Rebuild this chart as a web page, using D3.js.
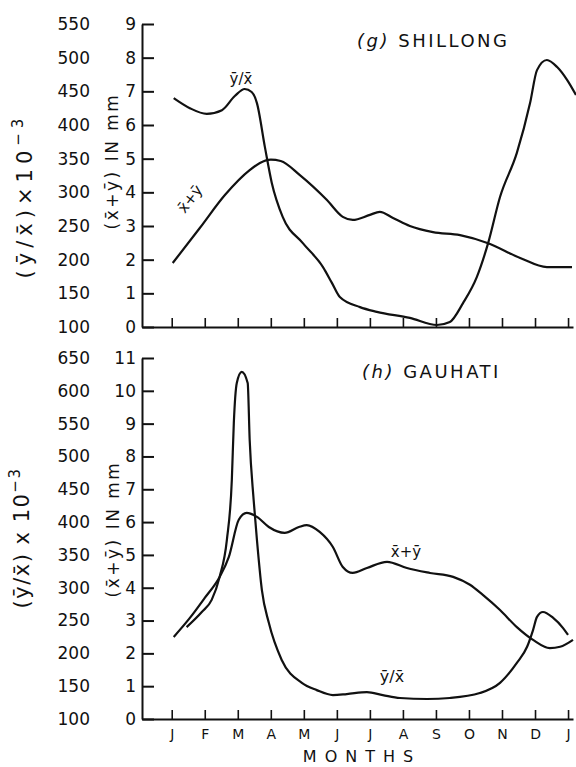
<!DOCTYPE html>
<html><head><meta charset="utf-8">
<script src="https://cdn.jsdelivr.net/npm/d3@7"></script>
<style>
html,body{margin:0;padding:0;background:#fff;}
svg text{font-family:"DejaVu Sans",sans-serif;fill:#111;}
</style></head>
<body>
<script>
// ---------- DATA ----------
const monthLabels = ["J","F","M","A","M","J","J","A","S","O","N","D","J"];
const monthTicks = [0,1,2,3,4,5,6,7,8,9,10,11,12];

// (g) SHILLONG
const shLeftTicks = [100,150,200,250,300,350,400,450,500,550];
const shRightTicks = [0,1,2,3,4,5,6,7,8,9];
const shRatioMonth = [0.06,0.55,1.06,1.52,1.91,2.21,2.42,2.58,2.82,3.03,3.36,3.97,4.58,4.85,5.09,5.70,6.21,7.21,8.03,8.42,8.82,9.24,9.58,9.94,10.45,10.85,11.06,11.36,11.67,11.97,12.24];
const shRatioValue = [440,425,416.5,422,443,453.5,449,432.5,367.5,314,263.5,224.5,189,165.5,144.5,129.5,122.5,113.5,103,107.5,135.5,174.5,224.5,293,358.5,432.5,481.5,496.5,486,467,444.5];
const shSumMonth = [0.03,0.85,1.61,2.36,2.67,3.0,3.3,3.88,4.70,5.18,5.48,6.0,6.30,6.70,7.21,7.91,8.73,9.58,10.55,11.36,12.12];
const shSumValue = [1.90,2.94,3.92,4.66,4.87,4.97,4.93,4.51,3.77,3.27,3.18,3.33,3.42,3.24,3.0,2.82,2.73,2.49,2.05,1.78,1.78];

// (h) GAUHATI
const ghLeftTicks = [100,150,200,250,300,350,400,450,500,550,600,650];
const ghRightTicks = [0,1,2,3,4,5,6,7,8,9,10,11];
const ghRatioMonth = [0.45,0.91,1.21,1.45,1.67,1.82,1.88,1.97,2.12,2.30,2.36,2.48,2.58,2.73,2.94,3.33,3.94,4.39,4.88,5.30,5.91,6.39,6.91,7.73,8.42,9.33,9.94,10.45,10.76,10.94,11.06,11.24,11.55,11.85,12.0];
const ghRatioValue = [240,263,281.5,316.5,373,464.5,551,612,629,612,525.5,434,373,296.5,246.5,190,155,144,136.5,138,141,136.5,132,130.5,132,139.5,155,185.5,210,235.5,255.5,263,254,238.5,228];
const ghSumMonth = [0.06,0.55,1.0,1.45,1.73,2.03,2.27,2.58,2.94,3.42,3.85,4.09,4.48,4.88,5.18,5.48,5.91,6.52,7.12,7.82,8.52,9.03,9.42,9.94,10.45,10.94,11.45,11.76,12.15];
const ghSumValue = [2.50,3.08,3.69,4.33,4.94,6.07,6.28,6.16,5.85,5.67,5.85,5.91,5.70,5.24,4.63,4.45,4.60,4.79,4.60,4.45,4.33,4.09,3.78,3.32,2.80,2.41,2.16,2.20,2.41];

// ---------- DRAW ----------
const W = 576, H = 767;
const svg = d3.select("body").append("svg").attr("width", W).attr("height", H);
svg.append("rect").attr("width", W).attr("height", H).attr("fill", "#fff");

const x = d3.scaleLinear().domain([-0.9, 12.15]).range([142, 573]);
const INK = "#111";

function panel(cfg) {
  const yR = d3.scaleLinear().domain([0, cfg.rightMax]).range([cfg.y0, cfg.y1]);
  const yL = d3.scaleLinear().domain([100, cfg.leftMax]).range([cfg.y0, cfg.y1]);
  const g = svg.append("g");

  // right-hand (mm) axis, ticks pointing inward
  const ax = g.append("g").attr("transform", `translate(${x.range()[0]},0)`)
    .call(d3.axisLeft(yR).tickValues(cfg.rightTicks).tickSize(-12).tickSizeOuter(0).tickPadding(6));
  ax.select(".domain").attr("stroke", INK).attr("stroke-width", 2);
  ax.selectAll(".tick line").attr("stroke", INK).attr("stroke-width", 2);
  ax.selectAll(".tick text").attr("font-size", 17).attr("fill", INK);

  // left (ratio) numbers
  const al = g.append("g").attr("transform", `translate(${x.range()[0]},0)`)
    .call(d3.axisLeft(yL).tickValues(cfg.leftTicks).tickSize(0).tickPadding(52));
  al.select(".domain").remove();
  al.selectAll(".tick text").attr("font-size", 17).attr("fill", INK);

  // month axis
  const axb = g.append("g").attr("transform", `translate(0,${cfg.y0})`)
    .call(d3.axisBottom(x).tickValues(monthTicks).tickSize(-9).tickSizeOuter(0).tickPadding(10)
      .tickFormat(cfg.showMonths ? (d => monthLabels[d]) : () => ""));
  axb.select(".domain").attr("stroke", INK).attr("stroke-width", 2);
  axb.selectAll(".tick line").attr("stroke", INK).attr("stroke-width", 1.6);
  axb.selectAll(".tick text").attr("font-size", 14).attr("fill", INK);

  const line = d3.line().curve(d3.curveMonotoneX);
  g.append("path")
    .attr("d", line(cfg.ratioM.map((m, i) => [x(m), yL(cfg.ratioV[i])])))
    .attr("fill", "none").attr("stroke", INK).attr("stroke-width", 2.2);
  g.append("path")
    .attr("d", line(cfg.sumM.map((m, i) => [x(m), yR(cfg.sumV[i])])))
    .attr("fill", "none").attr("stroke", INK).attr("stroke-width", 2.2);

  // rotated axis titles
  const t1 = g.append("text")
    .attr("transform", `translate(${cfg.lab1[0]},${cfg.lab1[1]}) rotate(-90)`)
    .attr("text-anchor", "middle").attr("font-size", 21)
    .attr("letter-spacing", cfg.lab1[2]);
  t1.append("tspan").text(cfg.ratioText);
  t1.append("tspan").attr("dy", -9).attr("font-size", 15).text("\u22123");

  g.append("text")
    .attr("transform", `translate(${cfg.lab2[0]},${cfg.lab2[1]}) rotate(-90)`)
    .attr("text-anchor", "middle").attr("font-size", 17)
    .attr("letter-spacing", cfg.lab2[2])
    .text("(x\u0304+\u0233) IN mm");

  // panel title
  g.append("text").attr("x", cfg.title[0]).attr("y", cfg.title[1])
    .attr("font-size", 18).attr("letter-spacing", 2.5)
    .html(cfg.titleHtml);
}

panel({
  y0: 327, y1: 24, rightMax: 9, leftMax: 550,
  rightTicks: shRightTicks, leftTicks: shLeftTicks, showMonths: false,
  ratioM: shRatioMonth, ratioV: shRatioValue, sumM: shSumMonth, sumV: shSumValue,
  lab1: [32, 196, 5], lab2: [118, 161, 2.5], ratioText: "(\u0233/x\u0304)\u00d710",
  title: [357, 47], titleHtml: '<tspan font-style="italic">(g)</tspan> SHILLONG'
});
panel({
  y0: 719, y1: 358, rightMax: 11, leftMax: 650,
  rightTicks: ghRightTicks, leftTicks: ghLeftTicks, showMonths: true,
  ratioM: ghRatioMonth, ratioV: ghRatioValue, sumM: ghSumMonth, sumV: ghSumValue,
  lab1: [29, 538, 1.5], lab2: [119, 529, 2.5], ratioText: "(\u0233/x\u0304) x 10",
  title: [362, 378], titleHtml: '<tspan font-style="italic">(h)</tspan> GAUHATI'
});

// curve labels
svg.append("text").attr("x", 241).attr("y", 84).attr("text-anchor", "middle")
  .attr("font-size", 15).text("\u0233/x\u0304");
svg.append("text").attr("transform", "translate(194,202) rotate(-52)")
  .attr("text-anchor", "middle").attr("font-size", 15).text("x\u0304+\u0233");
svg.append("text").attr("x", 406).attr("y", 557).attr("text-anchor", "middle")
  .attr("font-size", 15).text("x\u0304+\u0233");
svg.append("text").attr("x", 392).attr("y", 682).attr("text-anchor", "middle")
  .attr("font-size", 16).text("\u0233/x\u0304");

// x title
svg.append("text").attr("x", 362).attr("y", 762).attr("text-anchor", "middle")
  .attr("font-size", 16).attr("letter-spacing", 8).text("MONTHS");
</script>
</body></html>
